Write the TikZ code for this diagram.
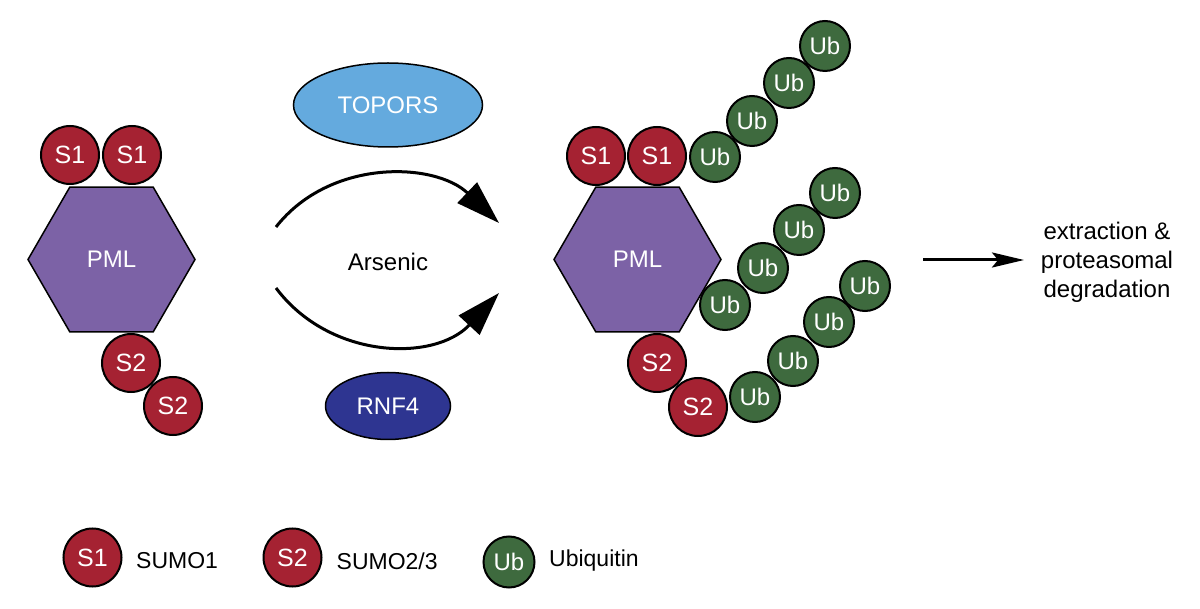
\documentclass[tikz,border=0pt]{standalone}
\usepackage{fontspec}
\setmainfont{Liberation Sans}
\usetikzlibrary{shapes.geometric,arrows.meta}
\definecolor{sumored}{RGB}{165,34,50}
\definecolor{ubgreen}{RGB}{62,106,62}
\definecolor{pmlpurple}{RGB}{124,98,166}
\definecolor{toporsblue}{RGB}{100,170,222}
\definecolor{rnfblue}{RGB}{46,53,145}

\begin{document}
\begin{tikzpicture}[x=1pt,y=-1pt,
        pml/.style={regular polygon, regular polygon sides=6, minimum size=167pt, inner sep=0pt,
            draw, line width=1.5pt, fill=pmlpurple, text=white, font=\fontsize{24}{28}\selectfont},
        sumo/.style={circle, draw, line width=2pt, fill=sumored, minimum size=58pt, inner sep=0pt,
            text=white, font=\fontsize{25}{28}\selectfont},
        ub/.style={circle, draw, line width=2pt, fill=ubgreen, minimum size=50pt, inner sep=0pt,
            text=white, font=\fontsize{24}{28}\selectfont},
        enzyme/.style={ellipse, draw, line width=1.5pt, inner sep=0pt, text=white,
            font=\fontsize{24}{28}\selectfont},
        lbl/.style={font=\fontsize{24}{29}\selectfont, align=center},
        keylbl/.style={font=\fontsize{23}{28}\selectfont, anchor=west, inner sep=0pt},
        curve/.style={line width=3pt, -{Triangle[length=44pt,width=28pt]}},
    ]
    \useasboundingbox (0,0) rectangle (1200,609);

    % unmodified PML
    \node[pml] (pmlL) at (111.5,259.5) {PML};
    \node[sumo] (s1La) at (70,155) {S1};
    \node[sumo] (s1Lb) at (132,155) {S1};
    \node[sumo] (s2La) at (131,363) {S2};
    \node[sumo] (s2Lb) at (173,406) {S2};

    % ligases
    \node[enzyme, fill=toporsblue, minimum width=189pt, minimum height=84pt] (topors) at (388,105) {TOPORS};
    \node[enzyme, fill=rnfblue, minimum width=125pt, minimum height=67pt] (rnf4) at (388,406) {RNF4};
    \node[lbl] (ars) at (388,262) {Arsenic};

    \coordinate (tpS) at (276,227);
    \coordinate (tpE) at (499,223);
    \coordinate (rnS) at (276,288);
    \coordinate (rnE) at (499,293);
    \draw[curve] (tpS) .. controls (330,158) and (435,162) .. (tpE);
    \draw[curve] (rnS) .. controls (330,360) and (435,362) .. (rnE);

    % ubiquitinated PML
    \node[pml] (pmlR) at (637.5,259.5) {PML};
    \node[sumo] (s1Ra) at (596,156) {S1};
    \node[sumo] (s1Rb) at (657,156) {S1};
    \node[sumo] (s2Ra) at (657,363) {S2};
    \node[sumo] (s2Rb) at (698,407) {S2};

    \node[ub] (ua1) at (715,157) {Ub};
    \node[ub] (ua2) at (752,121) {Ub};
    \node[ub] (ua3) at (789,83) {Ub};
    \node[ub] (ua4) at (825,46) {Ub};

    \node[ub] (ub1) at (725,305) {Ub};
    \node[ub] (ub2) at (763,268) {Ub};
    \node[ub] (ub3) at (799,230) {Ub};
    \node[ub] (ub4) at (835,193) {Ub};

    \node[ub] (uc1) at (755,397) {Ub};
    \node[ub] (uc2) at (793,361) {Ub};
    \node[ub] (uc3) at (829,322) {Ub};
    \node[ub] (uc4) at (865,286) {Ub};

    % fate
    \node[lbl] (deg) at (1107,262) {extraction \&\\proteasomal\\degradation};
    \coordinate (degS) at (923,260);
    \draw[line width=3pt, -{Stealth[length=32pt,width=15pt,inset=6pt]}] (degS) -- (1024,260);

    % legend
    \node[sumo] (kS1) at (92.5,557.5) {S1};
    \node[keylbl] (tS1) at (136,561) {SUMO1};
    \node[sumo] (kS2) at (292.5,557.5) {S2};
    \node[keylbl] (tS2) at (336.5,561) {SUMO2/3};
    \node[ub, minimum size=51pt] (kUb) at (509,562) {Ub};
    \node[keylbl] (tUb) at (549,561) {Ubiquitin};
\end{tikzpicture}
\end{document}
